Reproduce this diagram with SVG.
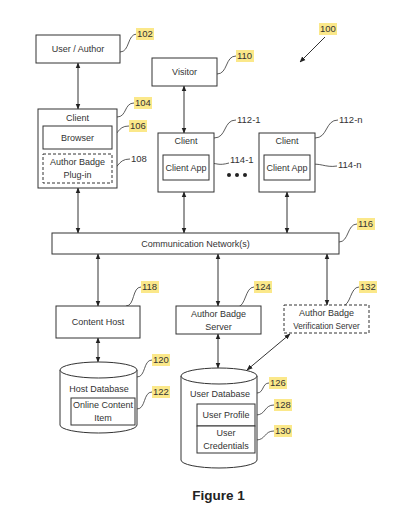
<svg xmlns="http://www.w3.org/2000/svg" width="410" height="524" viewBox="0 0 410 524">
<style>
.bx{fill:#fff;stroke:#333;stroke-width:1}
.dbx{fill:#fff;stroke:#333;stroke-width:1;stroke-dasharray:3,2}
.t{font-family:"Liberation Sans",Arial,sans-serif;font-size:9px;fill:#333;text-anchor:middle}
.n{font-family:"Liberation Sans",Arial,sans-serif;font-size:9.5px;fill:#333}
.hl{fill:#fbe88a}
.ld{fill:none;stroke:#333;stroke-width:0.8}
.cn{fill:none;stroke:#333;stroke-width:1}
</style>
<defs>
<marker id="ah" viewBox="0 0 10 10" refX="9" refY="5" markerWidth="6" markerHeight="6" orient="auto-start-reverse" markerUnits="userSpaceOnUse">
<path d="M0,1 L10,5 L0,9 z" fill="#222"/>
</marker>
</defs>
<rect width="410" height="524" fill="#fff"/>

<g id="connectors">
<line class="cn" x1="78" y1="63" x2="78" y2="109" marker-start="url(#ah)" marker-end="url(#ah)"/>
<line class="cn" x1="184" y1="86" x2="184" y2="133" marker-start="url(#ah)" marker-end="url(#ah)"/>
<line class="cn" x1="78" y1="188" x2="78" y2="233" marker-start="url(#ah)" marker-end="url(#ah)"/>
<line class="cn" x1="184" y1="192" x2="184" y2="233" marker-start="url(#ah)" marker-end="url(#ah)"/>
<line class="cn" x1="287" y1="192" x2="287" y2="233" marker-start="url(#ah)" marker-end="url(#ah)"/>
<line class="cn" x1="98" y1="254" x2="98" y2="306" marker-start="url(#ah)" marker-end="url(#ah)"/>
<line class="cn" x1="218" y1="254" x2="218" y2="306" marker-start="url(#ah)" marker-end="url(#ah)"/>
<line class="cn" x1="327" y1="254" x2="327" y2="305" marker-start="url(#ah)" marker-end="url(#ah)"/>
<line class="cn" x1="98" y1="338" x2="98" y2="362" marker-start="url(#ah)" marker-end="url(#ah)"/>
<line class="cn" x1="218" y1="334" x2="218" y2="368" marker-start="url(#ah)" marker-end="url(#ah)"/>
<line class="cn" x1="290" y1="334" x2="247" y2="370" marker-start="url(#ah)" marker-end="url(#ah)"/>
<line class="cn" x1="325" y1="37" x2="300" y2="62" marker-end="url(#ah)"/>
</g>

<g id="leaders">
<path class="ld" d="M120,52 C130,52 127,34 137,34"/>
<path class="ld" d="M217,74 C228,74 225,56 236,56"/>
<path class="ld" d="M117,117 C127,117 124,103 134,103"/>
<path class="ld" d="M107,137 C120,137 116,126 129,126"/>
<path class="ld" d="M106,171 C120,171 116,159 130,159"/>
<path class="ld" d="M214,138 C227,138 223,120 236,120"/>
<path class="ld" d="M207,163 C218,163 218,166 229,163"/>
<path class="ld" d="M315,138 C328,138 325,120 338,120"/>
<path class="ld" d="M308,165 C320,162 325,168 337,166"/>
<path class="ld" d="M339,242 C349,242 347,224 357,224"/>
<path class="ld" d="M126,306 C135,306 132,287 141,287"/>
<path class="ld" d="M237,307 C246,307 245,287 254,287"/>
<path class="ld" d="M342,306 C351,306 350,287 359,287"/>
<path class="ld" d="M137,377 C146,377 143,360 152,360"/>
<path class="ld" d="M137,409 C146,409 143,392 152,392"/>
<path class="ld" d="M257,393 C264,393 262,383 269,383"/>
<path class="ld" d="M256,415 C266,415 264,405 274,405"/>
<path class="ld" d="M256,440 C266,440 264,431 274,431"/>
</g>

<g id="n102">
<rect class="bx" x="36" y="35" width="84" height="28"/>
<text class="t" x="78" y="52">User / Author</text>
</g>
<g id="n110">
<rect class="bx" x="152" y="58" width="65" height="28"/>
<text class="t" x="184.5" y="75">Visitor</text>
</g>
<g id="n104">
<rect class="bx" x="38" y="109" width="79" height="79"/>
<text class="t" x="77.5" y="121">Client</text>
<g id="n106">
<rect class="bx" x="43" y="126" width="69" height="23"/>
<text class="t" x="77.5" y="140.5">Browser</text>
</g>
<g id="n108">
<rect class="dbx" x="43" y="154" width="69" height="29"/>
<text class="t" x="77.5" y="165">Author Badge</text>
<text class="t" x="77.5" y="178">Plug-in</text>
</g>
</g>
<g id="n112-1">
<rect class="bx" x="158" y="133" width="56" height="59"/>
<text class="t" x="186" y="144">Client</text>
<g id="n114-1">
<rect class="bx" x="163" y="155" width="46" height="25"/>
<text class="t" x="186" y="170.5">Client App</text>
</g>
</g>
<g id="dots">
<circle cx="229" cy="175" r="2" fill="#222"/>
<circle cx="237" cy="175" r="2" fill="#222"/>
<circle cx="245" cy="175" r="2" fill="#222"/>
</g>
<g id="n112-n">
<rect class="bx" x="259" y="133" width="56" height="59"/>
<text class="t" x="287" y="144">Client</text>
<g id="n114-n">
<rect class="bx" x="264" y="155" width="46" height="25"/>
<text class="t" x="287" y="170.5">Client App</text>
</g>
</g>
<g id="n116">
<rect class="bx" x="52" y="233" width="287" height="21"/>
<text class="t" x="195.5" y="247">Communication Network(s)</text>
</g>
<g id="n118">
<rect class="bx" x="56" y="306" width="84" height="32"/>
<text class="t" x="98" y="325">Content Host</text>
</g>
<g id="n124">
<rect class="bx" x="176" y="306" width="85" height="28"/>
<text class="t" x="218.5" y="317">Author Badge</text>
<text class="t" x="218.5" y="330">Server</text>
</g>
<g id="n132">
<rect class="dbx" x="284" y="305" width="85" height="28"/>
<text class="t" x="326.5" y="316">Author Badge</text>
<text class="t" x="326.5" y="329" style="font-size:8.2px">Verification Server</text>
</g>
<g id="n120">
<path class="bx" d="M60,370 L60,425 A38.5,8 0 0 0 137,425 L137,370"/>
<ellipse class="bx" cx="98.5" cy="370" rx="38.5" ry="8"/>
<text class="t" x="99" y="392">Host Database</text>
<g id="n122">
<rect class="bx" x="71" y="398" width="64" height="27"/>
<text class="t" x="103" y="408">Online Content</text>
<text class="t" x="103" y="421">Item</text>
</g>
</g>
<g id="n126">
<path class="bx" d="M181,376 L181,460 A38,8 0 0 0 257,460 L257,376"/>
<ellipse class="bx" cx="219" cy="376" rx="38" ry="8"/>
<text class="t" x="220" y="397">User Database</text>
<g id="n128">
<rect class="bx" x="197" y="404" width="58" height="22"/>
<text class="t" x="226" y="418">User Profile</text>
</g>
<g id="n130">
<rect class="bx" x="197" y="426" width="58" height="27"/>
<text class="t" x="226" y="436">User</text>
<text class="t" x="226" y="449">Credentials</text>
</g>
</g>

<g id="labels">
<rect class="hl" x="136" y="28" width="18" height="12"/><text class="n" x="137" y="37.4">102</text>
<rect class="hl" x="236" y="50" width="18" height="12"/><text class="n" x="237" y="59.4">110</text>
<rect class="hl" x="319" y="23" width="18" height="12"/><text class="n" x="320" y="32.4">100</text>
<rect class="hl" x="134" y="97" width="18" height="12"/><text class="n" x="135" y="106.4">104</text>
<rect class="hl" x="129" y="120" width="18" height="12"/><text class="n" x="130" y="129.4">106</text>
<text class="n" x="131" y="162.4">108</text>
<text class="n" x="237" y="123.4">112-1</text>
<text class="n" x="230" y="163.4">114-1</text>
<text class="n" x="339" y="123.4">112-n</text>
<text class="n" x="338" y="168.4">114-n</text>
<rect class="hl" x="357" y="218" width="18" height="12"/><text class="n" x="358" y="227.4">116</text>
<rect class="hl" x="141" y="281" width="18" height="12"/><text class="n" x="142" y="290.4">118</text>
<rect class="hl" x="254" y="281" width="18" height="12"/><text class="n" x="255" y="290.4">124</text>
<rect class="hl" x="359" y="281" width="18" height="12"/><text class="n" x="360" y="290.4">132</text>
<rect class="hl" x="152" y="354" width="18" height="12"/><text class="n" x="153" y="363.4">120</text>
<rect class="hl" x="152" y="386" width="18" height="12"/><text class="n" x="153" y="395.4">122</text>
<rect class="hl" x="269" y="377" width="18" height="12"/><text class="n" x="270" y="386.4">126</text>
<rect class="hl" x="274" y="399" width="18" height="12"/><text class="n" x="275" y="408.4">128</text>
<rect class="hl" x="274" y="425" width="18" height="12"/><text class="n" x="275" y="434.4">130</text>
</g>

<text x="218.5" y="500" style="font-family:'Liberation Sans',Arial,sans-serif;font-size:13.5px;font-weight:bold;fill:#222;text-anchor:middle">Figure 1</text>
</svg>
